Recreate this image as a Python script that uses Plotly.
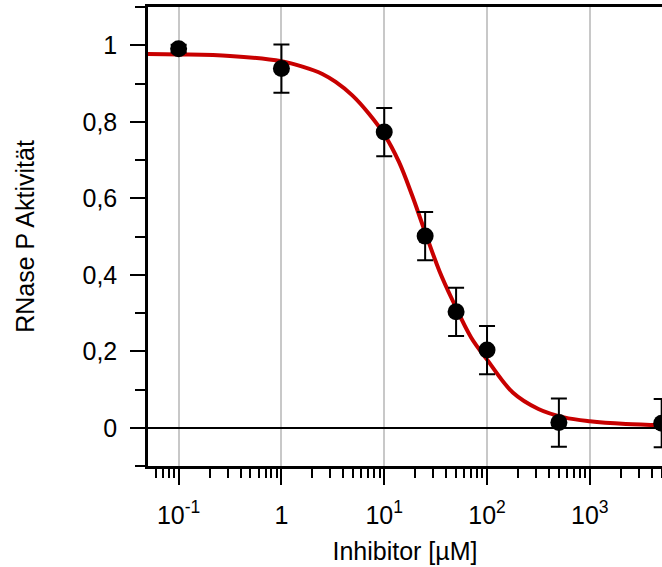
import plotly.graph_objects as go

# Measured data
conc = [0.1, 1, 10, 25, 50, 100, 500, 5000]
activity = [0.991, 0.939, 0.773, 0.501, 0.303, 0.203, 0.0135, 0.012]
activity_err = [0.01, 0.063, 0.063, 0.063, 0.063, 0.063, 0.063, 0.063]

# Fitted dose-response curve
fit_x = [0.05, 0.1, 0.316, 1, 1.6, 2.5, 3.37, 4.89, 7.1, 10, 13.9, 18.7, 24.2, 34.4, 46.4,
         70, 100, 178, 316, 562, 1000, 2240, 5000]
fit_y = [0.977, 0.976, 0.972, 0.958, 0.944, 0.925, 0.904, 0.869, 0.821, 0.767, 0.695, 0.607,
         0.522, 0.41, 0.332, 0.236, 0.178, 0.092, 0.049, 0.027, 0.017, 0.010, 0.007]

# Axis ticks
x_tickvals = [0.1, 1, 10, 100, 1000]
x_ticktext = ["10<sup>-1</sup>", "1", "10<sup>1</sup>", "10<sup>2</sup>", "10<sup>3</sup>"]
x_minor = [m * 10 ** k for k in range(-2, 4) for m in range(2, 10) if 0.05 <= m * 10 ** k <= 5000]

FONT = "Liberation Sans, Arial, sans-serif"

fig = go.Figure()
fig.add_trace(go.Scatter(
    x=fit_x, y=fit_y, mode="lines",
    line=dict(color="#c80000", width=4, shape="spline", smoothing=1.0),
    hoverinfo="skip", showlegend=False))
fig.add_trace(go.Scatter(
    x=conc, y=activity, mode="markers",
    marker=dict(color="black", size=17),
    error_y=dict(type="data", array=activity_err, visible=True, color="black", thickness=2, width=8),
    showlegend=False, cliponaxis=False))

fig.update_layout(
    width=662, height=567,
    margin=dict(l=148, r=0, t=7, b=101),
    paper_bgcolor="white", plot_bgcolor="white",
    separators=",.",
    font=dict(family=FONT, size=25, color="black"),
)
fig.update_xaxes(
    type="log", range=[-1.298, 3.702], automargin=False,
    tickmode="array", tickvals=x_tickvals, ticktext=x_ticktext,
    ticks="outside", ticklen=16, tickwidth=2, tickcolor="black",
    ticklabelstandoff=9,
    showline=True, linecolor="black", linewidth=2.5, mirror=True,
    showgrid=True, gridcolor="#c8c8c8", gridwidth=2,
    zeroline=False,
    minor=dict(tickmode="array", tickvals=x_minor, ticks="outside", ticklen=9,
               tickwidth=2, tickcolor="black", showgrid=False),
    title=dict(text="Inhibitor [µM]", standoff=15, font=dict(size=25)),
    tickfont=dict(size=25),
)
fig.update_yaxes(
    range=[-0.1, 1.1], tick0=0, dtick=0.2, automargin=False,
    ticks="outside", ticklen=15, tickwidth=2, tickcolor="black",
    ticklabelstandoff=8,
    showline=True, linecolor="black", linewidth=2.5,
    showgrid=False,
    zeroline=True, zerolinecolor="black", zerolinewidth=1.5,
    minor=dict(dtick=0.1, tick0=0, ticks="outside", ticklen=10, tickwidth=2,
               tickcolor="black", showgrid=False),
    title=dict(text="RNase P Aktivität", standoff=41, font=dict(size=25)),
    tickfont=dict(size=25),
)

fig.write_html(
    "out.html",
    config={"displayModeBar": False},
    post_script="document.body.style.margin='0';document.body.style.overflow='hidden';",
)
